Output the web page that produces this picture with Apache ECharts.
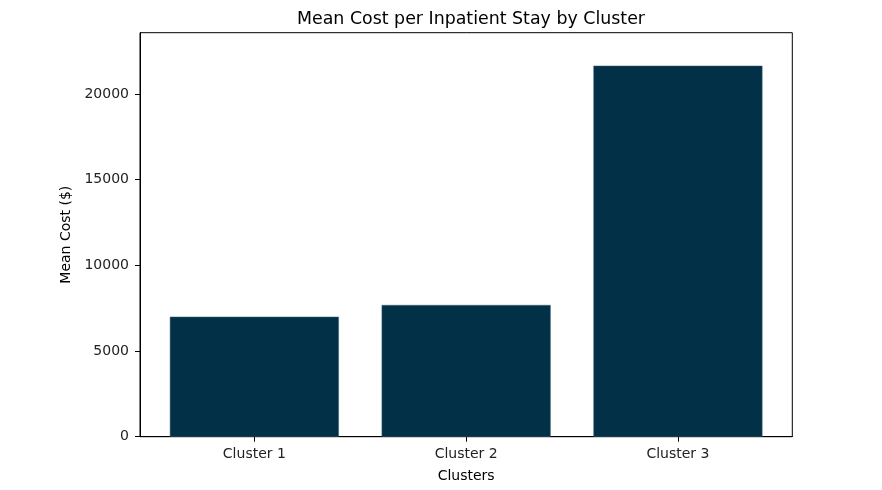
<!DOCTYPE html>
<html>
<head>
<meta charset="utf-8">
<script src="https://cdn.jsdelivr.net/npm/echarts@6/dist/echarts.min.js"></script>
<style>html,body{margin:0;padding:0;background:#fff}#c{width:882px;height:490px}</style>
</head>
<body>
<div id="c"></div>
<script>
const categories = ["Cluster 1", "Cluster 2", "Cluster 3"];
const meanCost = [7000, 7685, 21645];
const yTicks = [0, 5000, 10000, 15000, 20000];
const xTicks = [0, 1, 2];

const chart = echarts.init(document.getElementById('c'), null, {renderer: 'canvas'});
const font = 'DejaVu Sans';
chart.setOption({
  animation: false,
  backgroundColor: '#ffffff',
  title: {
    text: 'Mean Cost per Inpatient Stay by Cluster',
    left: 466, top: 6, textAlign: 'center',
    textStyle: {fontFamily: font, fontSize: 17.4, fontWeight: 'normal', color: '#000'}
  },
  grid: {
    left: 140, right: 89.7, top: 32.7, bottom: 53.3,
    show: true, borderColor: '#000', borderWidth: 1, backgroundColor: 'transparent'
  },
  xAxis: {
    type: 'value', min: -0.54, max: 2.54,
    name: 'Clusters', nameLocation: 'middle', nameGap: 33,
    nameTextStyle: {fontFamily: font, fontSize: 14, color: '#000'},
    axisLine: {show: true, onZero: false, lineStyle: {color: '#000', width: 1}},
    axisTick: {show: true, length: 5, customValues: xTicks, lineStyle: {color: '#000'}},
    axisLabel: {customValues: xTicks, margin: 11, fontFamily: font, fontSize: 14, color: '#222',
      formatter: v => categories[Math.round(v)] || ''},
    splitLine: {show: false}
  },
  yAxis: {
    type: 'value', min: 0, max: 23570,
    name: 'Mean Cost ($)', nameLocation: 'middle', nameGap: 60,
    nameTextStyle: {fontFamily: font, fontSize: 14, color: '#000'},
    axisLine: {show: true, onZero: false, lineStyle: {color: '#000', width: 1}},
    axisTick: {show: true, length: 5, customValues: yTicks, lineStyle: {color: '#000'}},
    axisLabel: {customValues: yTicks, margin: 11, fontFamily: font, fontSize: 14, color: '#222',
      formatter: v => String(v)},
    splitLine: {show: false}
  },
  series: [{
    type: 'bar',
    data: meanCost.map((v, i) => [i, v]),
    barWidth: 169,
    itemStyle: {color: '#023047', borderColor: '#3d6478', borderWidth: 0.5}
  }]
});
</script>
</body>
</html>
